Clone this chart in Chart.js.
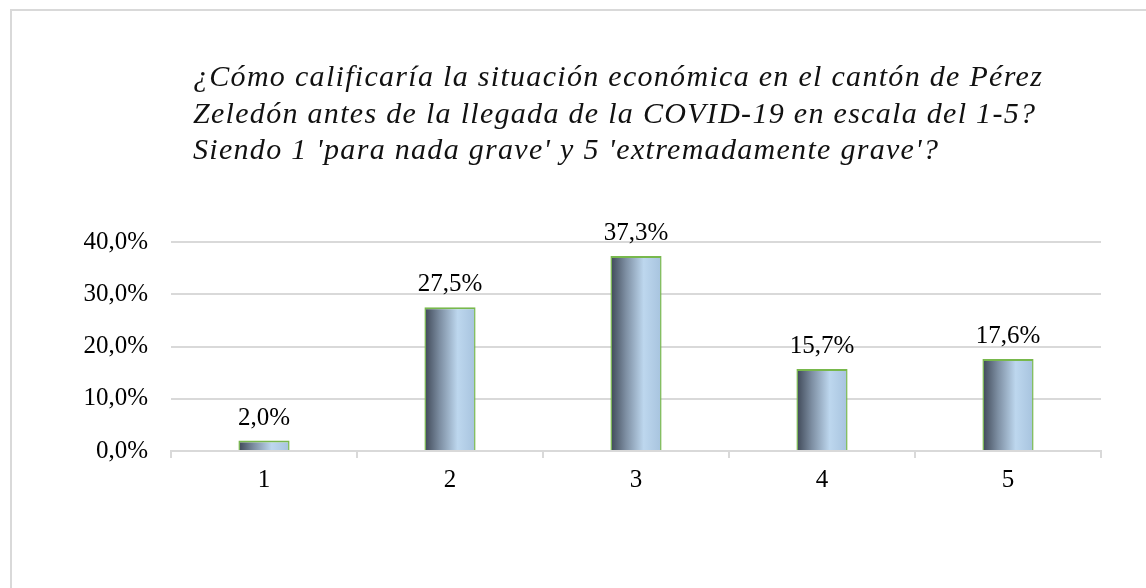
<!DOCTYPE html>
<html>
<head>
<meta charset="utf-8">
<script src="https://cdn.jsdelivr.net/npm/chart.js@4/dist/chart.umd.min.js"></script>
<style>
  html, body { margin: 0; padding: 0; background: #fff; overflow: hidden; }
  #wrap { position: relative; width: 1146px; height: 588px; }
  #frame { position: absolute; left: 10px; top: 9px; width: 1200px; height: 700px; border: 2px solid #d9d9d9; }
  #title { position: absolute; left: 193px; top: 58px; font: italic 30px "Liberation Serif", "Times New Roman", serif; letter-spacing: 1.3px; line-height: 36.7px; color: #111; white-space: nowrap; }
  canvas { position: absolute; left: 0; top: 0; }
</style>
</head>
<body>
<div id="wrap">
  <div id="frame"></div>
  <canvas id="chart" width="1146" height="588"></canvas>
  <div id="title"></div>
</div>
<script>
const titleLines = [
  "¿Cómo calificaría la situación económica en el cantón de Pérez",
  "Zeledón antes de la llegada de la COVID-19 en escala del 1-5?",
  "Siendo 1 'para nada grave' y 5 'extremadamente grave'?"
];
const categories = ['1', '2', '3', '4', '5'];
const values = [2.0, 27.5, 37.3, 15.7, 17.6];
const yTicks = [0, 10, 20, 30, 40];

document.getElementById('title').innerHTML = titleLines.join('<br>');

const FONT = '"Liberation Serif", "Times New Roman", serif';
const fmt = v => v.toFixed(1).replace('.', ',') + '%';

function barGradient(context) {
  const chart = context.chart;
  const xs = chart.scales.x;
  if (!chart.chartArea || !xs) return '#bdd7ee';
  const cx = xs.getPixelForValue(context.dataIndex);
  const w = xs.width / categories.length * 0.275;
  const g = chart.ctx.createLinearGradient(cx - w / 2, 0, cx + w / 2, 0);
  g.addColorStop(0, '#3e4756');
  g.addColorStop(0.3, '#7d8ea2');
  g.addColorStop(0.65, '#bdd7ee');
  g.addColorStop(1, '#a7c3de');
  return g;
}

const valueLabels = {
  id: 'valueLabels',
  afterDatasetsDraw(chart) {
    const ctx = chart.ctx;
    const meta = chart.getDatasetMeta(0);
    ctx.save();
    ctx.font = '25px ' + FONT;
    ctx.fillStyle = '#000';
    ctx.textAlign = 'center';
    ctx.textBaseline = 'alphabetic';
    meta.data.forEach((bar, i) => {
      ctx.fillText(fmt(values[i]), bar.x, bar.y - 16);
    });
    ctx.restore();
  }
};

new Chart(document.getElementById('chart'), {
  type: 'bar',
  data: {
    labels: categories,
    datasets: [{
      data: values,
      backgroundColor: barGradient,
      borderColor: '#78b84c',
      borderWidth: { top: 2, left: 1.5, right: 1.5, bottom: 0 },
      borderSkipped: false,
      categoryPercentage: 1,
      barPercentage: 0.275
    }]
  },
  options: {
    responsive: false,
    animation: false,
    layout: { padding: { left: 0, right: 45, top: 242, bottom: 70 } },
    plugins: { legend: { display: false }, tooltip: { enabled: false }, title: { display: false } },
    scales: {
      x: {
        offset: true,
        grid: { display: true, drawOnChartArea: false, offset: true, color: '#d9d9d9', lineWidth: 2, tickLength: 7 },
        border: { display: true, color: '#d9d9d9', width: 2 },
        ticks: { color: '#000', font: { family: FONT, size: 25 }, padding: 7 },
        afterFit(scale) { scale.height = 67; }
      },
      y: {
        min: 0,
        max: 40,
        afterBuildTicks(scale) { scale.ticks = yTicks.map(v => ({ value: v })); },
        grid: { color: '#d9d9d9', lineWidth: 2, drawTicks: false },
        border: { display: false },
        ticks: { color: '#000', font: { family: FONT, size: 25 }, padding: 23, callback: v => fmt(v) },
        afterFit(scale) { scale.width = 171; }
      }
    }
  },
  plugins: [valueLabels]
});
</script>
</body>
</html>
